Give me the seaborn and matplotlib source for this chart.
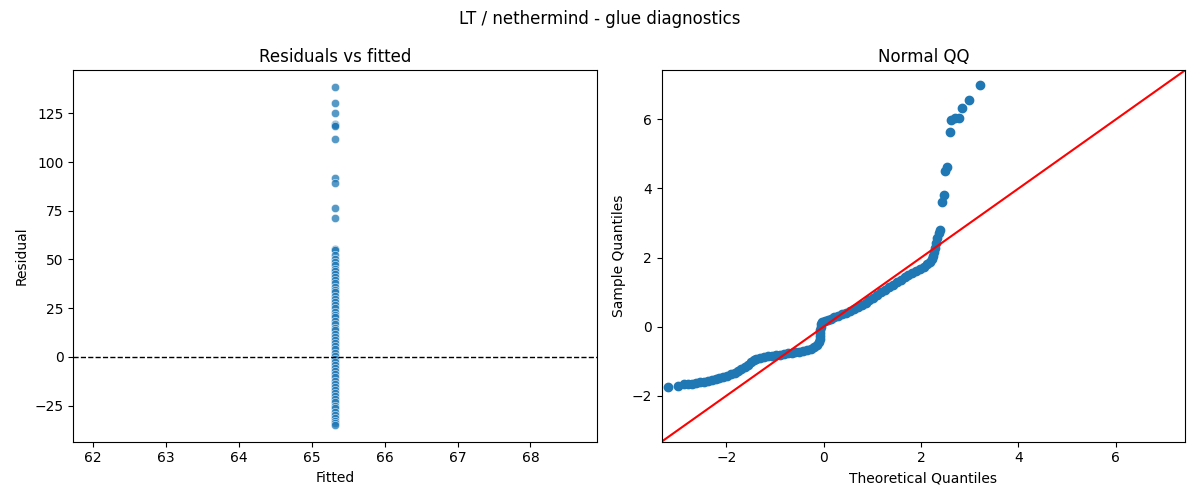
import matplotlib
matplotlib.use("Agg")
import matplotlib.pyplot as plt
import seaborn as sns
import pandas as pd

# ---- data ----
FITTED_VALUE = 65.32

residuals = [
    138.4, 130.1, 125.0, 119.4, 119.0, 118.6, 111.7, 91.8, 89.3, 76.2, 71.4,
    55.6, 54.8, 52.3, 50.2, 48.5, 47.0, 45.3, 44.1, 42.6, 41.0, 39.2, 37.8,
    36.1, 34.5, 33.2, 31.4, 29.8, 28.0, 26.5, 24.9, 23.1, 21.6, 20.2, 18.4,
    16.7, 15.0, 13.6, 11.9, 10.2, 8.5, 7.1, 5.4, 3.8, 2.1, 0.6, -0.9, -2.6,
    -4.1, -5.8, -7.3, -9.0, -10.5, -12.2, -13.8, -15.3, -17.0, -18.6, -20.1,
    -21.8, -23.3, -25.0, -26.4, -28.1, -29.6, -31.2, -32.8, -34.0, -34.9,
]

qq_theoretical = [
    -3.20, -2.99, -2.87, -2.78, -2.70, -2.62, -2.54, -2.46, -2.38, -2.30,
    -2.22, -2.14, -2.06, -1.98, -1.90, -1.83, -1.76, -1.69, -1.62, -1.56,
    -1.50, -1.44, -1.38, -1.30, -1.22, -1.14, -1.06, -0.98, -0.90, -0.82,
    -0.74, -0.66, -0.58, -0.50, -0.42, -0.34, -0.27, -0.20, -0.14, -0.10,
    -0.08, -0.07, -0.07, -0.07, -0.06, -0.06, -0.04, 0.02, 0.08, 0.15,
    0.22, 0.30, 0.38, 0.46, 0.54, 0.62, 0.70, 0.78, 0.86, 0.94, 1.02,
    1.10, 1.18, 1.26, 1.34, 1.42, 1.50, 1.58, 1.66, 1.74, 1.82, 1.90,
    1.98, 2.05, 2.12, 2.18, 2.22, 2.25, 2.27, 2.29, 2.31, 2.33, 2.36,
    2.38, 2.42, 2.47, 2.49, 2.53, 2.59, 2.62, 2.70, 2.78, 2.85, 2.99, 3.20,
]

qq_sample = [
    -1.74, -1.71, -1.67, -1.66, -1.65, -1.63, -1.61, -1.59, -1.57, -1.55,
    -1.52, -1.49, -1.46, -1.42, -1.38, -1.34, -1.29, -1.23, -1.17, -1.10,
    -1.03, -0.97, -0.93, -0.90, -0.88, -0.86, -0.84, -0.83, -0.81, -0.79,
    -0.77, -0.76, -0.74, -0.72, -0.70, -0.68, -0.64, -0.59, -0.53, -0.45,
    -0.36, -0.27, -0.18, -0.09, 0.00, 0.08, 0.13, 0.17, 0.20, 0.23,
    0.27, 0.32, 0.37, 0.41, 0.45, 0.50, 0.56, 0.62, 0.69, 0.76, 0.84,
    0.91, 0.99, 1.07, 1.15, 1.22, 1.29, 1.36, 1.43, 1.50, 1.56, 1.62,
    1.68, 1.74, 1.80, 1.87, 1.95, 2.05, 2.16, 2.28, 2.42, 2.56, 2.72,
    2.80, 3.60, 3.81, 4.51, 4.62, 5.64, 5.99, 6.03, 6.03, 6.32, 6.57, 6.99,
]

QQ_LIMITS = (-3.33, 7.42)

# ---- figure ----
fig, (ax1, ax2) = plt.subplots(1, 2, figsize=(12, 5), dpi=100)

left_df = pd.DataFrame({"Fitted": [FITTED_VALUE] * len(residuals),
                        "Residual": residuals})
sns.scatterplot(data=left_df, x="Fitted", y="Residual", ax=ax1,
                alpha=0.75, color="#1f77b4", edgecolor="white")
ax1.axhline(0, color="black", linestyle="--", linewidth=1)
ax1.set_title("Residuals vs fitted")
ax1.set_xlabel("Fitted")
ax1.set_ylabel("Residual")

qq_df = pd.DataFrame({"theoretical": qq_theoretical, "sample": qq_sample})
sns.scatterplot(data=qq_df, x="theoretical", y="sample", ax=ax2,
                color="#1f77b4", edgecolor="#1f77b4", linewidth=1, s=36)
ax2.plot(QQ_LIMITS, QQ_LIMITS, color="red", linewidth=1.5)
ax2.set_xlim(QQ_LIMITS)
ax2.set_ylim(QQ_LIMITS)
ax2.set_title("Normal QQ")
ax2.set_xlabel("Theoretical Quantiles")
ax2.set_ylabel("Sample Quantiles")

fig.suptitle("LT / nethermind - glue diagnostics")
fig.tight_layout()
fig.savefig("out.png", dpi=100)
